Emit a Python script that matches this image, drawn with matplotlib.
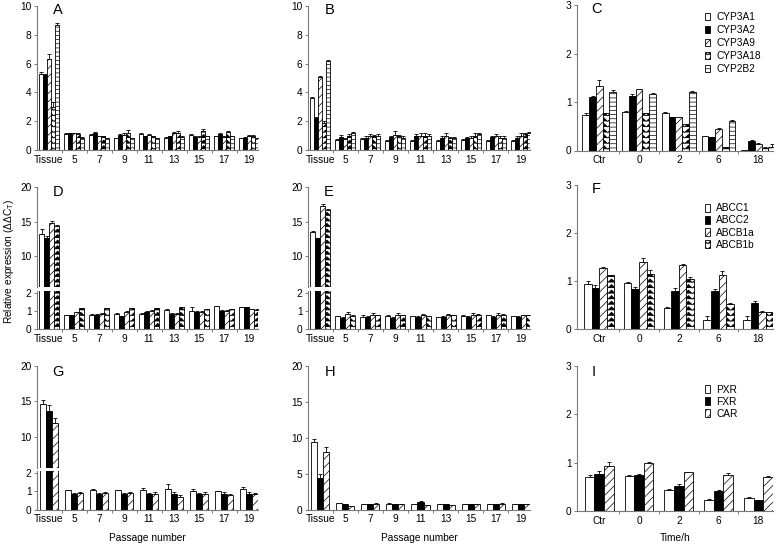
import warnings
import numpy as np
import matplotlib
matplotlib.use('Agg')
import matplotlib.pyplot as plt
import matplotlib.hatch as mhatch
from matplotlib.path import Path

warnings.filterwarnings('ignore')

# ---------------- data ----------------
passages = ['Tissue', '5', '7', '9', '11', '13', '15', '17', '19']
times = ['Ctr', '0', '2', '6', '18']

cyp_names = ['CYP3A1', 'CYP3A2', 'CYP3A9', 'CYP3A18', 'CYP2B2']
abc_names = ['ABCC1', 'ABCC2', 'ABCB1a', 'ABCB1b']
nr_names = ['PXR', 'FXR', 'CAR']

# rows = groups, columns = genes
a_vals = [[5.3, 5.2, 6.3, 3.0, 8.7],
          [1.1, 1.15, 1.15, 1.1, 0.85],
          [1.05, 1.2, 0.95, 0.95, 0.8],
          [0.8, 1.05, 1.05, 1.2, 0.8],
          [1.1, 0.95, 1.05, 0.95, 0.8],
          [0.85, 0.95, 1.2, 1.2, 0.9],
          [1.05, 0.9, 0.9, 1.35, 0.95],
          [0.95, 1.1, 0.9, 1.25, 0.95],
          [0.8, 0.85, 0.95, 1.0, 0.8]]
a_err = [[0.1, 0.1, 0.4, 0.3, 0.1],
         [0.05, 0.05, 0.05, 0.05, 0.05],
         [0.05, 0.03, 0.05, 0.05, 0.05],
         [0.05, 0.05, 0.1, 0.2, 0.05],
         [0.05, 0.05, 0.05, 0.05, 0.05],
         [0.05, 0.05, 0.08, 0.1, 0.05],
         [0.05, 0.05, 0.05, 0.1, 0.05],
         [0.05, 0.05, 0.05, 0.08, 0.05],
         [0.05, 0.08, 0.1, 0.05, 0.05]]

b_vals = [[3.6, 2.2, 5.1, 1.9, 6.15],
          [0.7, 0.9, 0.75, 0.95, 1.15],
          [0.75, 0.85, 1.0, 0.95, 1.0],
          [0.65, 0.9, 1.05, 0.95, 0.85],
          [0.65, 1.0, 1.0, 0.95, 1.0],
          [0.65, 0.85, 0.95, 0.8, 0.8],
          [0.7, 0.8, 0.85, 0.95, 1.1],
          [0.65, 0.9, 0.95, 0.85, 0.85],
          [0.65, 0.85, 1.0, 1.1, 1.15]]
b_err = [[0.05, 0.1, 0.05, 0.1, 0.1],
         [0.05, 0.15, 0.1, 0.15, 0.1],
         [0.05, 0.15, 0.1, 0.1, 0.1],
         [0.05, 0.1, 0.3, 0.1, 0.1],
         [0.05, 0.1, 0.15, 0.2, 0.1],
         [0.05, 0.1, 0.2, 0.1, 0.1],
         [0.05, 0.1, 0.15, 0.2, 0.1],
         [0.05, 0.1, 0.15, 0.15, 0.1],
         [0.05, 0.1, 0.15, 0.1, 0.1]]

c_vals = [[0.73, 1.1, 1.33, 0.78, 1.2],
          [0.8, 1.12, 1.27, 0.78, 1.17],
          [0.78, 0.7, 0.7, 0.55, 1.2],
          [0.3, 0.27, 0.45, 0.08, 0.6],
          [0.02, 0.2, 0.13, 0.05, 0.08]]
c_err = [[0.05, 0.02, 0.12, 0.0, 0.04],
         [0.02, 0.04, 0.0, 0.0, 0.02],
         [0.02, 0.0, 0.0, 0.0, 0.02],
         [0.0, 0.0, 0.02, 0.0, 0.02],
         [0.0, 0.02, 0.02, 0.03, 0.05]]

d_vals = [[13.2, 12.7, 14.8, 14.4],
          [0.75, 0.75, 0.92, 1.15],
          [0.8, 0.8, 0.85, 1.15],
          [0.85, 0.7, 0.95, 1.15],
          [0.85, 0.95, 1.0, 1.15],
          [1.05, 0.85, 0.85, 1.2],
          [1.0, 0.95, 0.95, 1.1],
          [1.25, 1.0, 1.0, 1.1],
          [1.2, 1.2, 1.1, 1.05]]
d_err = [[0.7, 0.3, 0.3, 0.2],
         [0.02, 0.02, 0.03, 0.03],
         [0.02, 0.02, 0.03, 0.03],
         [0.03, 0.02, 0.03, 0.03],
         [0.03, 0.03, 0.03, 0.03],
         [0.03, 0.03, 0.03, 0.03],
         [0.2, 0.03, 0.03, 0.03],
         [0.03, 0.03, 0.03, 0.03],
         [0.03, 0.03, 0.03, 0.03]]

e_vals = [[13.5, 12.6, 17.3, 16.7],
          [0.7, 0.6, 0.85, 0.7],
          [0.65, 0.65, 0.8, 0.75],
          [0.7, 0.6, 0.8, 0.75],
          [0.7, 0.65, 0.8, 0.7],
          [0.65, 0.65, 0.8, 0.75],
          [0.7, 0.65, 0.8, 0.8],
          [0.75, 0.65, 0.8, 0.8],
          [0.7, 0.65, 0.75, 0.75]]
e_err = [[0.1, 0.1, 0.2, 0.1],
         [0.03, 0.05, 0.08, 0.05],
         [0.1, 0.05, 0.08, 0.05],
         [0.05, 0.05, 0.08, 0.03],
         [0.03, 0.05, 0.05, 0.03],
         [0.03, 0.05, 0.05, 0.03],
         [0.05, 0.05, 0.08, 0.05],
         [0.03, 0.05, 0.08, 0.05],
         [0.03, 0.05, 0.05, 0.05]]

f_vals = [[0.93, 0.86, 1.27, 1.12],
          [0.96, 0.83, 1.4, 1.15],
          [0.44, 0.8, 1.33, 1.04],
          [0.18, 0.8, 1.13, 0.52],
          [0.18, 0.54, 0.35, 0.35]]
f_err = [[0.08, 0.06, 0.03, 0.0],
         [0.01, 0.05, 0.08, 0.08],
         [0.01, 0.05, 0.03, 0.04],
         [0.1, 0.04, 0.07, 0.02],
         [0.1, 0.04, 0.02, 0.01]]

g_vals = [[14.6, 13.7, 11.9],
          [1.05, 0.85, 0.9],
          [1.05, 0.85, 0.9],
          [1.05, 0.85, 0.9],
          [1.05, 0.85, 0.85],
          [1.1, 0.85, 0.7],
          [1.0, 0.85, 0.85],
          [1.0, 0.85, 0.8],
          [1.1, 0.85, 0.85]]
g_err = [[0.6, 0.8, 0.8],
         [0.03, 0.05, 0.08],
         [0.08, 0.05, 0.08],
         [0.03, 0.05, 0.05],
         [0.12, 0.05, 0.1],
         [0.3, 0.08, 0.08],
         [0.1, 0.05, 0.12],
         [0.02, 0.1, 0.05],
         [0.15, 0.08, 0.05]]

h_vals = [[9.4, 4.4, 8.0],
          [0.9, 0.7, 0.5],
          [0.7, 0.7, 0.8],
          [0.8, 0.7, 0.7],
          [0.7, 1.0, 0.6],
          [0.7, 0.7, 0.6],
          [0.7, 0.7, 0.7],
          [0.7, 0.7, 0.8],
          [0.7, 0.7, 0.7]]
h_err = [[0.4, 0.5, 0.7],
         [0.05, 0.05, 0.05],
         [0.05, 0.05, 0.1],
         [0.05, 0.05, 0.05],
         [0.05, 0.2, 0.05],
         [0.05, 0.05, 0.05],
         [0.05, 0.05, 0.05],
         [0.05, 0.05, 0.1],
         [0.05, 0.05, 0.05]]

i_vals = [[0.71, 0.76, 0.93],
          [0.73, 0.75, 0.99],
          [0.44, 0.51, 0.8],
          [0.22, 0.42, 0.74],
          [0.27, 0.22, 0.71]]
i_err = [[0.04, 0.07, 0.08],
         [0.01, 0.02, 0.02],
         [0.02, 0.05, 0.01],
         [0.03, 0.01, 0.05],
         [0.01, 0.01, 0.01]]


# zigzag (chevron) hatch, used with the letter 'z'
class ZigzagHatch(mhatch.HatchPatternBase):
    def __init__(self, hatch, density):
        self.num_rows = int(hatch.count('z') * density)
        self.num_peaks = int(self.num_rows * 0.75)
        self.num_vertices = self.num_rows * (2 * self.num_peaks + 1)

    def set_vertices_and_codes(self, vertices, codes):
        npts = 2 * self.num_peaks + 1
        xs = np.linspace(0, 1, npts)
        amp = 0.65 / self.num_rows
        for r in range(self.num_rows):
            y0 = (r + 0.15) / self.num_rows
            sl = slice(r * npts, (r + 1) * npts)
            vertices[sl, 0] = xs
            vertices[sl, 1] = y0 + amp * (np.arange(npts) % 2)
            codes[sl] = Path.LINETO
            codes[r * npts] = Path.MOVETO


mhatch._hatch_types.append(ZigzagHatch)

plt.rcParams['font.family'] = ['Liberation Sans', 'DejaVu Sans']
plt.rcParams['hatch.linewidth'] = 0.5
plt.rcParams['font.size'] = 7.3

EDGE = '#7a7a7a'
W, H = 784, 544

style5 = [('white', None), ('black', None), ('white', '////'), ('white', 'zzz'), ('white', '----')]
style4 = [('white', None), ('black', None), ('white', '////'), ('white', 'zzz')]
style3 = [('white', None), ('black', None), ('white', '////')]


def rect(x0, x1, ytop, ybot):
    return [x0 / W, 1 - ybot / H, (x1 - x0) / W, (ybot - ytop) / H]


def draw_bars(ax, vals, errs, styles, width):
    vals = np.array(vals)
    errs = np.array(errs)
    ng, ns = vals.shape
    x = np.arange(ng)
    handles = []
    for j in range(ns):
        pos = x + (j - (ns - 1) / 2) * width
        b = ax.bar(pos, vals[:, j], width, color=styles[j][0], edgecolor='black',
                   hatch=styles[j][1], linewidth=0.6, zorder=2)
        ax.errorbar(pos, vals[:, j], yerr=[np.zeros(ng), errs[:, j]], fmt='none',
                    ecolor='black', elinewidth=0.6, capsize=1.3, capthick=0.6, zorder=1)
        handles.append(b)
    return handles


def style_axis(ax, labels, xlim, ylim, yticks, bottom=True):
    ax.set_xlim(xlim)
    ax.set_ylim(ylim)
    ax.set_yticks(yticks)
    for s in ['top', 'right']:
        ax.spines[s].set_visible(False)
    ax.spines['left'].set_color(EDGE)
    ax.spines['left'].set_linewidth(0.8)
    ax.tick_params(axis='y', length=2.5, width=0.7, color=EDGE, pad=1.5, labelsize=7.3)
    if bottom:
        n = len(labels)
        ax.spines['bottom'].set_color(EDGE)
        ax.spines['bottom'].set_linewidth(0.8)
        ax.set_xticks(np.arange(n - 1) + 0.5)
        ax.set_xticklabels([])
        ax.set_xticks(np.arange(n), minor=True)
        ax.set_xticklabels(labels, minor=True)
        ax.tick_params(axis='x', which='major', length=2.5, width=0.7, color=EDGE)
        ax.tick_params(axis='x', which='minor', length=0, pad=3.5, labelsize=7.3)
    else:
        ax.spines['bottom'].set_visible(False)
        ax.set_xticks([])


def panel_letter(ax, letter, x, y):
    ax.text(x, y, letter, transform=ax.transAxes, fontsize=10.5, va='center', ha='left')


fig = plt.figure(figsize=(7.84, 5.44), dpi=100)

cols = [(37, 258), (308, 530), (577, 773)]
pxlim = (-0.48, 8.36)
txlim = (-0.56, 4.37)

# ---- row 1 ----
axA = fig.add_axes(rect(*cols[0], 6, 150))
draw_bars(axA, a_vals, a_err, style5, 0.16)
style_axis(axA, passages, pxlim, (0, 10), [0, 2, 4, 6, 8, 10])
panel_letter(axA, 'A', 0.07, 0.975)

axB = fig.add_axes(rect(*cols[1], 6, 150))
draw_bars(axB, b_vals, b_err, style5, 0.16)
style_axis(axB, passages, pxlim, (0, 10), [0, 2, 4, 6, 8, 10])
panel_letter(axB, 'B', 0.075, 0.975)

axC = fig.add_axes(rect(*cols[2], 5, 150.5))
hc = draw_bars(axC, c_vals, c_err, style5, 0.17)
style_axis(axC, times, txlim, (0, 3), [0, 1, 2, 3])
panel_letter(axC, 'C', 0.075, 0.97)
axC.legend(hc, cyp_names, loc='upper left', bbox_to_anchor=(0.63, 0.98), frameon=False,
           handlelength=0.55, handleheight=0.75, handletextpad=0.6, labelspacing=0.3,
           borderaxespad=0, fontsize=7.3)

# ---- row 2 (broken axes for D, E) ----
for col, vals, errs, letter in [(cols[0], d_vals, d_err, 'D'), (cols[1], e_vals, e_err, 'E')]:
    up = fig.add_axes(rect(*col, 187, 287))
    draw_bars(up, vals, errs, style4, 0.2)
    style_axis(up, passages, pxlim, (5.6, 20), [10, 15, 20], bottom=False)
    panel_letter(up, letter, 0.07, 0.95)
    lo = fig.add_axes(rect(*col, 291, 329))
    draw_bars(lo, vals, errs, style4, 0.2)
    style_axis(lo, passages, pxlim, (0, 2.1), [0, 1, 2])

axF = fig.add_axes(rect(*cols[2], 185, 329))
hf = draw_bars(axF, f_vals, f_err, style4, 0.19)
style_axis(axF, times, txlim, (0, 3), [0, 1, 2, 3])
panel_letter(axF, 'F', 0.075, 0.97)
axF.legend(hf, abc_names, loc='upper left', bbox_to_anchor=(0.63, 0.9), frameon=False,
           handlelength=0.55, handleheight=0.75, handletextpad=0.6, labelspacing=0.2,
           borderaxespad=0, fontsize=7.3)

# ---- row 3 ----
upG = fig.add_axes(rect(*cols[0], 366, 468))
draw_bars(upG, g_vals, g_err, style3, 0.24)
style_axis(upG, passages, pxlim, (5.6, 20), [10, 15, 20], bottom=False)
panel_letter(upG, 'G', 0.07, 0.94)
loG = fig.add_axes(rect(*cols[0], 471, 509.5))
draw_bars(loG, g_vals, g_err, style3, 0.24)
style_axis(loG, passages, pxlim, (0, 2.1), [0, 1, 2])
loG.set_xlabel('Passage number', fontsize=7.3, labelpad=6)

axH = fig.add_axes(rect(*cols[1], 366, 509.5))
draw_bars(axH, h_vals, h_err, style3, 0.24)
style_axis(axH, passages, pxlim, (0, 20), [0, 5, 10, 15, 20])
panel_letter(axH, 'H', 0.075, 0.96)
axH.set_xlabel('Passage number', fontsize=7.3, labelpad=6)

axI = fig.add_axes(rect(*cols[2], 366, 511))
hi = draw_bars(axI, i_vals, i_err, style3, 0.24)
style_axis(axI, times, txlim, (0, 3), [0, 1, 2, 3])
panel_letter(axI, 'I', 0.075, 0.96)
axI.set_xlabel('Time/h', fontsize=7.3, labelpad=5)
axI.legend(hi, nr_names, loc='upper left', bbox_to_anchor=(0.63, 0.9), frameon=False,
           handlelength=0.55, handleheight=0.75, handletextpad=0.6, labelspacing=0.2,
           borderaxespad=0, fontsize=7.3)

fig.text(0.011, 1 - 262 / H, 'Relative expression (ΔΔC$_\\mathregular{T}$)', rotation=90,
         va='center', ha='center', fontsize=7.3)

fig.savefig('out.png', dpi=100)
